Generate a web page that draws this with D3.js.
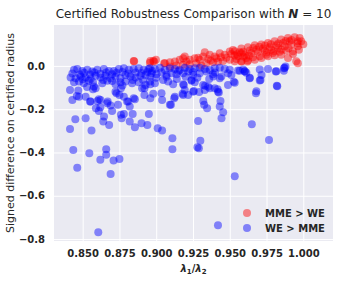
<!DOCTYPE html>
<html>
<head>
<meta charset="utf-8">
<script src="https://cdn.jsdelivr.net/npm/d3@7"></script>
<style>
  body { margin: 0; background: #fff; }
  text { font-family: "DejaVu Sans", sans-serif; fill: #262626; }
</style>
</head>
<body>
<div class="graph"></div>
<script>
// MME > WE points [ratio, signed difference]
const mmeWins = [
  [0.885, 0.022], [0.8957, 0.015], [0.8986, 0.020], [0.9054, 0.012], [0.8847, 0.023], [0.896, 0.023],
  [0.898, 0.023], [0.8998, 0.028], [0.9059, 0.012], [0.9093, 0.017], [0.9127, 0.020], [0.916, 0.028],
  [0.9183, 0.035], [0.9194, 0.043], [0.9228, 0.028], [0.9262, 0.035], [0.9285, 0.038], [0.9319, 0.043],
  [0.933, 0.063], [0.9364, 0.051], [0.9398, 0.043], [0.9432, 0.059], [0.9466, 0.051], [0.95, 0.066],
  [0.9522, 0.074], [0.9549, 0.054], [0.9567, 0.063], [0.9594, 0.043],
  [0.9093, -0.003], [0.9138, 0.002], [0.9183, 0.005], [0.9228, 0.008], [0.9273, 0.012], [0.9307, 0.002],
  [0.9341, 0.012], [0.9386, 0.017], [0.942, 0.020], [0.9454, 0.023], [0.95, 0.028], [0.9545, 0.032],
  [0.9579, 0.020], [0.9206, 0.020], [0.9296, 0.028], [0.9353, 0.032], [0.9409, 0.035], [0.9477, 0.038],
  [0.9533, 0.048],
  [0.9534, 0.068], [0.9579, 0.080], [0.9624, 0.086], [0.967, 0.096], [0.9715, 0.099], [0.976, 0.106],
  [0.9805, 0.114], [0.985, 0.122], [0.9896, 0.129], [0.9941, 0.132], [0.9986, 0.114],
  [0.9534, 0.022], [0.9579, 0.022], [0.9624, 0.025], [0.967, 0.029], [0.9715, 0.037], [0.976, 0.045],
  [0.9805, 0.049], [0.985, 0.052], [0.9896, 0.037], [0.9952, 0.022], [0.9963, 0.012],
  [0.9557, 0.045], [0.9602, 0.052], [0.9647, 0.060], [0.9692, 0.065], [0.9737, 0.071], [0.9783, 0.075],
  [0.9828, 0.083], [0.9873, 0.091], [0.9918, 0.099], [0.9963, 0.091], [0.993, 0.068], [0.9884, 0.071],
  [0.9839, 0.065], [0.9794, 0.060], [0.9749, 0.052], [0.9704, 0.045], [0.9658, 0.040], [0.9613, 0.037],
  [0.9963, 0.114], [0.9975, 0.129], [0.9907, 0.114], [0.9862, 0.106], [0.9817, 0.096], [0.9771, 0.086],
  [0.9726, 0.080], [0.9681, 0.075], [0.9636, 0.071], [0.9591, 0.065], [1.0, 0.100],
  [0.937, 0.025], [0.944, 0.040], [0.951, 0.055], [0.958, 0.058], [0.963, 0.048], [0.966, 0.083],
  [0.97, 0.088], [0.974, 0.094], [0.978, 0.100], [0.983, 0.104], [0.988, 0.115], [0.992, 0.120],
  [0.996, 0.105], [0.99, 0.082], [0.985, 0.075], [0.98, 0.068], [0.993, 0.055], [0.997, 0.075],
  [0.975, 0.062], [0.962, 0.020]
];

// WE > MME points [ratio, signed difference]
const weWins = [
  [0.8441, -0.018], [0.8463, -0.014], [0.8497, -0.023], [0.8531, -0.018], [0.8565, -0.026], [0.8599, -0.018],
  [0.8644, -0.014], [0.8678, -0.023], [0.8712, -0.023], [0.8746, -0.014], [0.878, -0.011], [0.8814, -0.018],
  [0.8847, -0.014], [0.8881, -0.011], [0.8915, -0.018], [0.8949, -0.014], [0.8972, -0.023],
  [0.8418, -0.054], [0.8452, -0.057], [0.8486, -0.049], [0.852, -0.054], [0.8554, -0.060], [0.8588, -0.045],
  [0.8621, -0.054], [0.8655, -0.045], [0.8689, -0.057], [0.8723, -0.049], [0.8757, -0.057], [0.8791, -0.042],
  [0.8825, -0.049], [0.8859, -0.054], [0.8893, -0.045], [0.8927, -0.042], [0.896, -0.049],
  [0.8441, -0.075], [0.8475, -0.072], [0.8508, -0.080], [0.8542, -0.069], [0.8576, -0.095], [0.8588, -0.103],
  [0.8633, -0.080], [0.8667, -0.069], [0.8723, -0.085], [0.8757, -0.075], [0.8791, -0.072], [0.8836, -0.080],
  [0.8881, -0.075], [0.8927, -0.088], [0.896, -0.085],
  [0.8475, -0.142], [0.8554, -0.165], [0.8621, -0.157], [0.8667, -0.172], [0.8723, -0.119], [0.878, -0.142],
  [0.8802, -0.165], [0.8847, -0.149], [0.8904, -0.103], [0.896, -0.149],
  [0.8414, -0.111], [0.843, -0.157], [0.847, -0.114], [0.846, -0.139], [0.852, -0.142], [0.853, -0.098],
  [0.855, -0.165], [0.857, -0.108], [0.86, -0.162], [0.861, -0.154], [0.859, -0.196], [0.862, -0.191],
  [0.861, -0.208], [0.867, -0.165], [0.869, -0.183], [0.87, -0.208], [0.874, -0.180], [0.875, -0.134],
  [0.876, -0.103], [0.873, -0.126], [0.8645, -0.234], [0.864, -0.257], [0.868, -0.273], [0.845, -0.246],
  [0.852, -0.242], [0.8414, -0.292], [0.856, -0.299], [0.876, -0.226], [0.878, -0.222], [0.8765, -0.242],
  [0.881, -0.165], [0.882, -0.188], [0.8855, -0.154], [0.884, -0.222], [0.882, -0.257], [0.8855, -0.283],
  [0.89, -0.265], [0.894, -0.273], [0.895, -0.222], [0.892, -0.134], [0.892, -0.103], [0.898, -0.129],
  [0.904, -0.157], [0.901, -0.288], [0.904, -0.299], [0.8436, -0.388], [0.8545, -0.403], [0.862, -0.434],
  [0.866, -0.411], [0.866, -0.385], [0.871, -0.437], [0.875, -0.430], [0.8463, -0.470], [0.869, -0.500],
  [0.8606, -0.768], [0.911, -0.334], [0.911, -0.385], [0.9285, -0.255], [0.93, -0.346], [0.928, -0.376],
  [0.929, -0.380], [0.91, -0.180], [0.965, -0.269], [0.9767, -0.342], [0.9534, -0.510], [0.942, -0.736],
  [0.8957, -0.011], [0.8991, -0.014], [0.9025, -0.008], [0.9059, -0.019], [0.9093, -0.011], [0.9127, -0.014],
  [0.916, -0.019], [0.9194, -0.008], [0.9228, -0.014], [0.9262, -0.011], [0.9296, -0.008], [0.933, -0.014],
  [0.9364, -0.019], [0.9398, -0.011], [0.9432, -0.008], [0.9466, -0.014],
  [0.8968, -0.034], [0.9002, -0.039], [0.9036, -0.029], [0.907, -0.042], [0.9104, -0.034], [0.9138, -0.039],
  [0.9183, -0.034], [0.9217, -0.026], [0.9251, -0.042], [0.9296, -0.034], [0.9341, -0.026], [0.9386, -0.039],
  [0.9443, -0.049], [0.9511, -0.042],
  [0.8957, -0.072], [0.8991, -0.080], [0.9047, -0.065], [0.9081, -0.072], [0.9115, -0.085], [0.9183, -0.085],
  [0.9194, -0.111], [0.924, -0.065], [0.9262, -0.075], [0.9319, -0.088], [0.9353, -0.096], [0.9398, -0.103],
  [0.9432, -0.057], [0.9488, -0.088],
  [0.9036, -0.126], [0.9127, -0.142], [0.9183, -0.134], [0.9251, -0.119], [0.933, -0.111], [0.942, -0.119],
  [0.9179, -0.129], [0.9217, -0.134], [0.9256, -0.116], [0.9292, -0.121], [0.9332, -0.092], [0.9364, -0.103],
  [0.9417, -0.108], [0.9426, -0.123], [0.9122, -0.149], [0.9093, -0.180],
  [0.932, -0.162], [0.9326, -0.180], [0.9346, -0.196], [0.9432, -0.188], [0.9437, -0.162], [0.9455, -0.214],
  [0.9444, -0.242], [0.9678, -0.126], [0.982, -0.092], [0.9716, -0.042], [0.9813, -0.026], [0.9869, -0.011],
  [0.9879, -0.003], [0.9602, -0.026], [0.9568, -0.022], [0.9388, -0.049], [0.9489, -0.034], [0.95, -0.018],
  [0.9557, -0.021], [0.9591, -0.017], [0.9613, -0.032], [0.9602, -0.025], [0.9636, -0.055], [0.9704, -0.017],
  [0.976, -0.014], [0.9817, -0.025], [0.9873, -0.009], [0.9868, -0.022], [0.9704, -0.068], [0.9823, -0.094],
  [0.9681, -0.117], [0.9534, -0.078], [0.9527, -0.073], [0.9636, -0.057], [0.9709, -0.065], [0.9188, -0.088],
  [0.924, -0.069],
  [0.843, -0.035], [0.848, -0.040], [0.851, -0.032], [0.855, -0.040], [0.858, -0.030], [0.862, -0.036],
  [0.866, -0.030], [0.87, -0.038], [0.873, -0.032], [0.877, -0.028], [0.881, -0.035], [0.886, -0.030],
  [0.89, -0.033], [0.894, -0.028], [0.85, -0.062], [0.857, -0.075], [0.864, -0.065], [0.87, -0.070],
  [0.877, -0.090], [0.884, -0.065], [0.891, -0.065], [0.9, -0.055], [0.907, -0.050], [0.914, -0.060],
  [0.92, -0.050], [0.928, -0.055], [0.936, -0.060], [0.915, -0.025], [0.925, -0.028], [0.94, -0.030]
];

const xTicks = [0.85, 0.875, 0.9, 0.925, 0.95, 0.975, 1.0];
const yTicks = [0.0, -0.2, -0.4, -0.6, -0.8];
const legendLabels = ['MME > WE', 'WE > MME'];
const colors = ['#ff0000', '#0000ff'];

const margin = { top: 25, right: 7, bottom: 43, left: 54 };
const width = 340 - margin.left - margin.right;
const height = 284 - margin.top - margin.bottom;

const svg = d3.select('.graph')
  .append('svg')
  .attr('width', 340)
  .attr('height', 284);

const g = svg.append('g')
  .attr('transform', `translate(${margin.left},${margin.top})`);

const xScale = d3.scaleLinear().domain([0.8305, 1.0202]).range([0, width]);
const yScale = d3.scaleLinear().domain([-0.809, 0.189]).range([height, 0]);

// background
g.append('rect')
  .attr('width', width)
  .attr('height', height)
  .attr('fill', '#eaeaf2');

// axes with grid
const fmtMinus = f => v => d3.format(f)(v).replace('-', '\u2212');

const xAxis = g.append('g')
  .attr('transform', `translate(0,${height})`)
  .call(d3.axisBottom(xScale).tickValues(xTicks).tickSize(-height).tickPadding(9).tickFormat(fmtMinus('.3f')));
const yAxis = g.append('g')
  .call(d3.axisLeft(yScale).tickValues(yTicks).tickSize(-width).tickPadding(9).tickFormat(fmtMinus('.1f')));

[xAxis, yAxis].forEach(ax => {
  ax.select('.domain').remove();
  ax.selectAll('.tick line').attr('stroke', '#fff').attr('stroke-width', 1);
  ax.selectAll('.tick text')
    .attr('font-size', 10)
    .attr('font-weight', 'bold')
    .attr('font-family', '"DejaVu Sans", sans-serif')
    .attr('fill', '#262626');
});

// points
const plot = g.append('g');
[mmeWins, weWins].forEach((pts, i) => {
  plot.selectAll(null)
    .data(pts)
    .enter()
    .append('circle')
    .attr('cx', d => xScale(d[0]))
    .attr('cy', d => yScale(d[1]))
    .attr('r', 4)
    .attr('fill', colors[i])
    .attr('fill-opacity', 0.45);
});

// legend
const legend = g.append('g').attr('transform', `translate(${width - 86},${height - 28})`);
legendLabels.forEach((lab, i) => {
  legend.append('circle')
    .attr('cx', 0)
    .attr('cy', i * 15)
    .attr('r', 4)
    .attr('fill', colors[i])
    .attr('fill-opacity', 0.45);
  legend.append('text')
    .attr('x', 18)
    .attr('y', i * 15)
    .attr('dy', '0.35em')
    .attr('font-size', 10)
    .attr('font-weight', 'bold')
    .text(lab);
});

// title
const title = svg.append('text')
  .attr('x', margin.left + width / 2)
  .attr('y', 18)
  .attr('text-anchor', 'middle')
  .attr('font-size', 12);
title.append('tspan').text('Certified Robustness Comparison with ');
title.append('tspan').attr('font-weight', 'bold').attr('font-style', 'italic').text('N');
title.append('tspan').text(' = 10');

// x label
const xl = svg.append('text')
  .attr('x', margin.left + width / 2)
  .attr('y', 272)
  .attr('text-anchor', 'middle')
  .attr('font-size', 10)
  .attr('font-weight', 'bold');
xl.append('tspan').attr('font-style', 'italic').text('λ');
xl.append('tspan').attr('font-size', 7).attr('dy', 2).text('1');
xl.append('tspan').attr('dy', -2).text('/');
xl.append('tspan').attr('font-style', 'italic').text('λ');
xl.append('tspan').attr('font-size', 7).attr('dy', 2).text('2');

// y label
svg.append('text')
  .attr('transform', `translate(14,${margin.top + height / 2}) rotate(-90)`)
  .attr('text-anchor', 'middle')
  .attr('font-size', 11)
  .text('Signed difference on certified radius');
</script>
</body>
</html>
